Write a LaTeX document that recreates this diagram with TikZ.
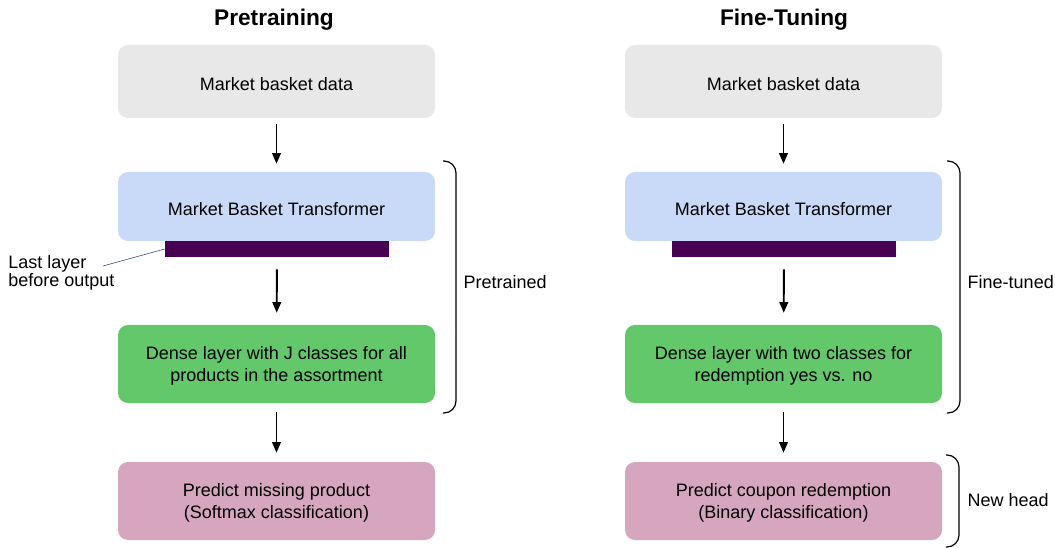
\documentclass[tikz,border=0pt]{standalone}
\usepackage{fontspec}
\setmainfont{Liberation Sans}
\usetikzlibrary{arrows.meta}
\definecolor{boxgray}{RGB}{232,232,232}
\definecolor{boxblue}{RGB}{201,218,248}
\definecolor{boxgreen}{RGB}{98,200,106}
\definecolor{boxpink}{RGB}{213,166,189}
\definecolor{barpurple}{RGB}{74,0,82}
\definecolor{leadblue}{RGB}{40,60,110}

\begin{document}
\begin{tikzpicture}[line cap=butt,line join=round,>={Triangle[length=8pt,width=6.5pt]},x=0.75pt,y=-0.75pt,
    every node/.style={font=\fontsize{13.5}{16}\selectfont},
    stage/.style={rounded corners=7.5pt,minimum width=237.75pt,inner sep=0pt,align=center},
    oneline/.style={stage,execute at begin node={\rule{0pt}{13.5pt}}},
    twoline/.style={stage,text depth=-1.7pt},
    flow/.style={->,line width=1.4pt},
    brace/.style={rounded corners=9pt,line width=0.9pt}]
      \useasboundingbox (0,0) rectangle (1055,548);
      % titles
      \node[font=\fontsize{17}{20}\selectfont\bfseries] (titlepre) at (274,19.5) {Pretraining};
      \node[font=\fontsize{17}{20}\selectfont\bfseries] (titlefine) at (784,19.5) {Fine-Tuning};
      % pretraining column
      \node[oneline,fill=boxgray,minimum height=54.75pt] (predata) at (276.5,81.5) {Market basket data};
      \node[oneline,fill=boxblue,minimum height=51.75pt] (premodel) at (276.5,206.5) {Market Basket Transformer};
      \node[fill=barpurple,minimum width=168pt,minimum height=12pt,inner sep=0pt] (prebar) at (277,249) {};
      \node[twoline,fill=boxgreen,minimum height=58.5pt] (predense) at (276.5,364) {Dense layer with J classes for all\\products in the assortment};
      \node[twoline,fill=boxpink,minimum height=58.5pt] (pretask) at (276.5,501) {Predict missing product\\(Softmax classification)};
      \draw[flow,shorten <=4.5pt,shorten >=6pt] (predata) -- (premodel);
      \draw[flow,shorten <=9pt,shorten >=9pt] (prebar) -- (predense);
      \draw[flow,shorten <=6.75pt,shorten >=6.75pt] (predense) -- (pretask);
      % last layer label
      \node[anchor=west,align=left,inner sep=0pt,font=\fontsize{13.5}{13.5}\selectfont] (lastlbl) at (8,273) {Last layer\\before output};
      \coordinate (leadend) at (103,266);
      \draw[leadblue] (leadend) -- (prebar.west);
      % fine-tuning column
      \node[oneline,fill=boxgray,minimum height=54.75pt] (finedata) at (783.5,81.5) {Market basket data};
      \node[oneline,fill=boxblue,minimum height=51.75pt] (finemodel) at (783.5,206.5) {Market Basket Transformer};
      \node[fill=barpurple,minimum width=168pt,minimum height=12pt,inner sep=0pt] (finebar) at (784,249) {};
      \node[twoline,fill=boxgreen,minimum height=58.5pt] (finedense) at (783.5,364) {Dense layer with two classes for\\redemption yes vs. no};
      \node[twoline,fill=boxpink,minimum height=58.5pt] (finetask) at (783.5,501) {Predict coupon redemption\\(Binary classification)};
      \draw[flow,shorten <=4.5pt,shorten >=6pt] (finedata) -- (finemodel);
      \draw[flow,shorten <=9pt,shorten >=9pt] (finebar) -- (finedense);
      \draw[flow,shorten <=6.75pt,shorten >=6.75pt] (finedense) -- (finetask);
      % braces
      \draw[brace] (443,161) -- (456,161) -- (456,413) -- (443,413);
      \node[anchor=west] (prelbl) at (459,282) {Pretrained};
      \draw[brace] (947,161) -- (960,161) -- (960,413) -- (947,413);
      \node[anchor=west] (finelbl) at (963,282) {Fine-tuned};
      \draw[brace] (946,455) -- (959,455) -- (959,547) -- (946,547);
      \node[anchor=west] (headlbl) at (963,500) {New head};
    \end{tikzpicture}
\end{document}
